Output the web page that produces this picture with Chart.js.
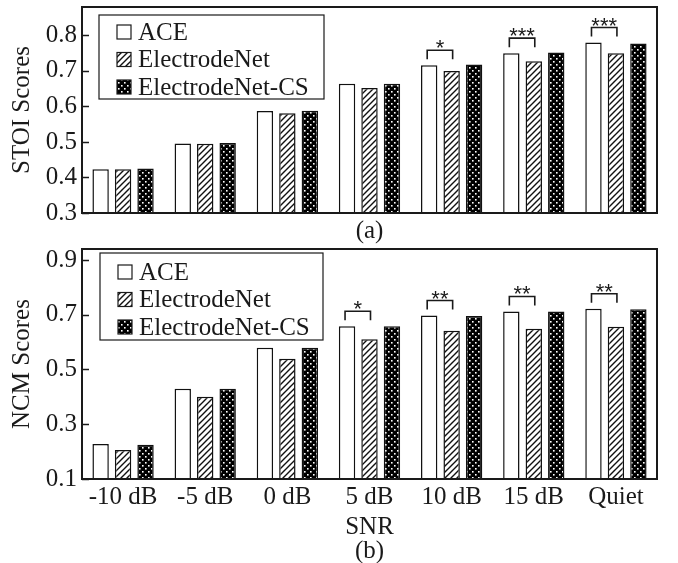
<!DOCTYPE html>
<html>
<head>
<meta charset="utf-8">
<script src="https://cdn.jsdelivr.net/npm/chart.js@4.4.1/dist/chart.umd.min.js"></script>
<style>
  html, body { margin: 0; padding: 0; background: #fff; }
  #wrap { position: relative; width: 678px; height: 563px; overflow: hidden; }
  #topChart { position: absolute; left: 0; top: 0; }
  #botChart { position: absolute; left: 0; top: 245px; }
</style>
</head>
<body>
<div id="wrap">
  <canvas id="topChart" width="678" height="245"></canvas>
  <canvas id="botChart" width="678" height="318"></canvas>
</div>
<script>
// ---- data ----
const categories = ['-10 dB', '-5 dB', '0 dB', ['5 dB', 'SNR'], '10 dB', '15 dB', 'Quiet']
const seriesNames = ['ACE', 'ElectrodeNet', 'ElectrodeNet-CS']

const stoiAce = [0.423, 0.496, 0.587, 0.664, 0.716, 0.750, 0.780]
const stoiNet = [0.423, 0.495, 0.581, 0.652, 0.700, 0.727, 0.750]
const stoiCs  = [0.425, 0.497, 0.588, 0.664, 0.718, 0.752, 0.777]
const stoiSig = ['', '', '', '', '*', '***', '***']
const stoiTicks = [0.3, 0.4, 0.5, 0.6, 0.7, 0.8]

const ncmAce = [0.228, 0.430, 0.579, 0.658, 0.697, 0.712, 0.722]
const ncmNet = [0.206, 0.400, 0.539, 0.610, 0.641, 0.649, 0.656]
const ncmCs  = [0.225, 0.430, 0.579, 0.658, 0.695, 0.712, 0.720]
const ncmSig = ['', '', '', '*', '**', '**', '**']
const ncmTicks = [0.1, 0.2, 0.3, 0.4, 0.5, 0.6, 0.7, 0.8, 0.9]
const ncmLabelled = [0.1, 0.3, 0.5, 0.7, 0.9]

const SERIF = '"Liberation Serif", "Times New Roman", serif'
const INK = '#1a1a1a'

// ---- fill patterns ----
function hatchPattern() {
    const c = document.createElement('canvas')
    c.width = 6; c.height = 6
    const g = c.getContext('2d')
    g.fillStyle = '#fff'; g.fillRect(0, 0, 6, 6)
    g.strokeStyle = '#111'; g.lineWidth = 1.4
    g.beginPath()
    g.moveTo(0, 6); g.lineTo(6, 0)
    g.moveTo(-1, 1); g.lineTo(1, -1)
    g.moveTo(5, 7); g.lineTo(7, 5)
    g.stroke()
    return g.createPattern(c, 'repeat')
}
function dotPattern() {
    const c = document.createElement('canvas')
    c.width = 6; c.height = 6
    const g = c.getContext('2d')
    g.fillStyle = '#000'; g.fillRect(0, 0, 6, 6)
    g.fillStyle = '#fff'
    g.fillRect(1, 1, 1.6, 1.6)
    g.fillRect(4, 4, 1.6, 1.6)
    return g.createPattern(c, 'repeat')
}
const hatch = hatchPattern()
const dots = dotPattern()
const fills = ['#ffffff', hatch, dots]

function makeDatasets(rows) {
    return rows.map((vals, i) => ({
        label: seriesNames[i],
        data: vals,
        backgroundColor: fills[i],
        borderColor: '#111',
        borderWidth: 1.5,
        categoryPercentage: 0.82,
        barPercentage: 0.73
    }))
}

// ---- plugins ----
// frame around plot + inward ticks on y
const frame = {
    id: 'frame',
    afterDraw(chart) {
        const { ctx, chartArea: a } = chart
        const y = chart.scales.y
        ctx.save()
        ctx.strokeStyle = INK
        ctx.lineWidth = 1.5
        y.ticks.forEach(t => {
            const py = Math.round(y.getPixelForValue(t.value)) + 0.5
            ctx.beginPath()
            ctx.moveTo(a.left, py)
            ctx.lineTo(a.left + 7, py)
            ctx.stroke()
        })
        ctx.lineWidth = 2
        ctx.strokeRect(a.left, a.top, a.right - a.left, a.bottom - a.top)
        ctx.restore()
    }
}

// significance brackets between ACE and ElectrodeNet
const brackets = {
    id: 'brackets',
    afterDatasetsDraw(chart, args, opts) {
        const { ctx } = chart
        const m0 = chart.getDatasetMeta(0).data
        const m1 = chart.getDatasetMeta(1).data
        ctx.save()
        ctx.strokeStyle = INK
        ctx.lineWidth = 1.6
        ctx.fillStyle = INK
        ctx.font = '22px "Liberation Sans", Arial, sans-serif'
        ctx.textAlign = 'center'
        ctx.textBaseline = 'alphabetic'
        opts.marks.forEach((s, i) => {
            if (!s) return
            const a = m0[i], b = m1[i]
            const x0 = a.x - 2, x1 = b.x + 1
            const legEnd = Math.min(a.y, b.y) - 6
            const top = legEnd - 9
            ctx.beginPath()
            ctx.moveTo(x0, legEnd)
            ctx.lineTo(x0, top)
            ctx.lineTo(x1, top)
            ctx.lineTo(x1, legEnd)
            ctx.stroke()
            ctx.fillText(s, (x0 + x1) / 2, top + 5)
        })
        ctx.restore()
    }
}

// boxed legend inside the plot
const boxLegend = {
    id: 'boxLegend',
    afterDraw(chart, args, opts) {
        const { ctx, chartArea } = chart
        const x = chartArea.left + opts.dx
        const y = chartArea.top + opts.dy
        ctx.save()
        ctx.fillStyle = '#fff'
        ctx.fillRect(x, y, opts.w, opts.h)
        ctx.strokeStyle = INK
        ctx.lineWidth = 1.2
        ctx.strokeRect(x, y, opts.w, opts.h)
        ctx.font = '25px ' + SERIF
        ctx.textBaseline = 'middle'
        chart.data.datasets.forEach((ds, i) => {
            const cy = y + opts.first + i * opts.step
            ctx.fillStyle = ds.backgroundColor
            ctx.fillRect(x + 18, cy - 7, 14, 14)
            ctx.lineWidth = 1.2
            ctx.strokeRect(x + 18, cy - 7, 14, 14)
            ctx.fillStyle = INK
            ctx.fillText(ds.label, x + 39, cy + 1)
        })
        ctx.restore()
    }
}

function yAxis(min, max, tickVals, labelled, title) {
    return {
        min: min,
        max: max,
        afterBuildTicks: s => { s.ticks = tickVals.map(v => ({ value: v })) },
        afterFit: s => {
            s.width = 82
            s.paddingTop = 0
            s.paddingBottom = 0
        },
        ticks: {
            color: INK,
            padding: 5,
            font: { family: SERIF, size: 25 },
            callback: v => labelled.some(l => Math.abs(l - v) < 1e-6) ? v.toFixed(1) : ''
        },
        grid: { display: false, drawTicks: false },
        border: { display: false },
        title: {
            display: true,
            text: title,
            color: INK,
            font: { family: SERIF, size: 25, lineHeight: 1.0 },
            padding: { top: 10, bottom: 0 }
        }
    }
}

function fitX(h) {
    return s => {
        s.height = h
        s.paddingLeft = 0
        s.paddingRight = 0
    }
}

// ---- top chart: STOI ----
new Chart(document.getElementById('topChart'), {
    type: 'bar',
    data: {
        labels: categories,
        datasets: makeDatasets([stoiAce, stoiNet, stoiCs])
    },
    options: {
        responsive: false,
        animation: false,
        devicePixelRatio: 1,
        layout: { autoPadding: false, padding: { top: 7, right: 21, left: 0, bottom: 0 } },
        plugins: {
            legend: { display: false },
            tooltip: { enabled: false },
            brackets: { marks: stoiSig },
            boxLegend: { dx: 17, dy: 8, w: 225, h: 84, first: 17, step: 27.5 }
        },
        scales: {
            x: {
                afterFit: fitX(32),
                ticks: { display: false },
                grid: { display: false, drawTicks: false },
                border: { display: false },
                title: {
                    display: true,
                    text: '(a)',
                    color: INK,
                    font: { family: SERIF, size: 25, lineHeight: 1.0 },
                    padding: { top: 0, bottom: 1 }
                }
            },
            y: yAxis(0.3, 0.88, stoiTicks, stoiTicks, 'STOI Scores')
        }
    },
    plugins: [frame, brackets, boxLegend]
})

// ---- bottom chart: NCM ----
new Chart(document.getElementById('botChart'), {
    type: 'bar',
    data: {
        labels: categories,
        datasets: makeDatasets([ncmAce, ncmNet, ncmCs])
    },
    options: {
        responsive: false,
        animation: false,
        devicePixelRatio: 1,
        layout: { autoPadding: false, padding: { top: 4, right: 21, left: 0, bottom: 0 } },
        plugins: {
            legend: { display: false },
            tooltip: { enabled: false },
            brackets: { marks: ncmSig },
            boxLegend: { dx: 18, dy: 4, w: 223, h: 87, first: 19, step: 27.5 }
        },
        scales: {
            x: {
                afterFit: fitX(84),
                ticks: {
                    color: INK,
                    padding: 3,
                    maxRotation: 0,
                    autoSkip: false,
                    font: { family: SERIF, size: 25, lineHeight: 1.2 }
                },
                grid: { display: false, drawTicks: false },
                border: { display: false },
                title: {
                    display: true,
                    text: '(b)',
                    color: INK,
                    font: { family: SERIF, size: 25, lineHeight: 0.9 },
                    padding: { top: 0, bottom: 0 }
                }
            },
            y: yAxis(0.1, 0.94, ncmTicks, ncmLabelled, 'NCM Scores')
        }
    },
    plugins: [frame, brackets, boxLegend]
})
</script>
</body>
</html>
